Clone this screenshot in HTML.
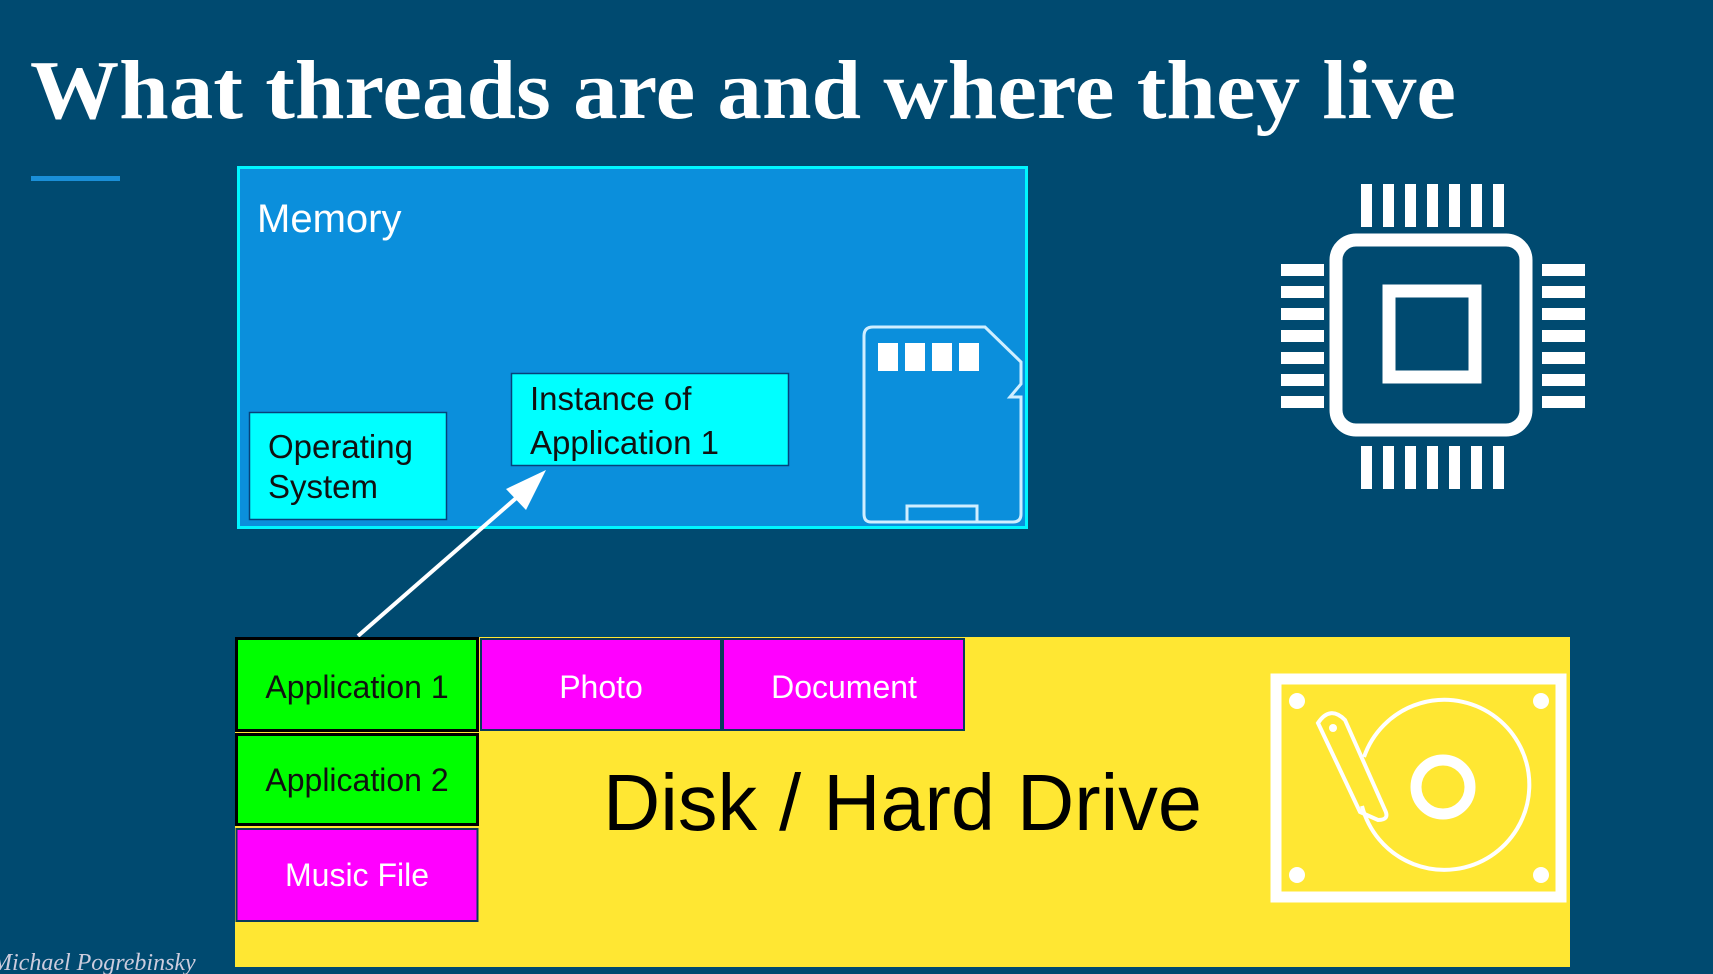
<!DOCTYPE html>
<html><head><meta charset="utf-8"><style>
html,body{margin:0;padding:0;background:#004a70;}
svg{display:block}
</style></head><body>
<svg width="1713" height="974" viewBox="0 0 1713 974" xmlns="http://www.w3.org/2000/svg">
<rect width="1713" height="974" fill="#004a70"/>
<text x="30" y="118" font-family="Liberation Serif, serif" font-weight="bold" font-size="84" fill="#fff" textLength="1426" lengthAdjust="spacingAndGlyphs">What threads are and where they live</text>
<rect x="31" y="176" width="89" height="5" fill="#1a8fd8"/>
<!-- Memory -->
<rect x="238.5" y="167.5" width="788" height="360" fill="#0b8fdc" stroke="#00f5ff" stroke-width="3"/>
<text x="257" y="232" font-family="Liberation Sans, sans-serif" font-size="40" fill="#fff">Memory</text>
<rect x="249.5" y="412.5" width="197" height="107" fill="#00ffff" stroke="#06427a" stroke-width="1.5"/>
<text font-family="Liberation Sans, sans-serif" font-size="33" fill="#111"><tspan x="268" y="458">Operating</tspan><tspan x="268" y="498">System</tspan></text>
<rect x="511.5" y="373.5" width="277" height="92" fill="#00ffff" stroke="#06427a" stroke-width="1.5"/>
<text font-family="Liberation Sans, sans-serif" font-size="33" fill="#111"><tspan x="530" y="410">Instance of</tspan><tspan x="530" y="454">Application 1</tspan></text>
<!-- SD card -->
<g fill="none" stroke="#cfeeff" stroke-width="3">
<path d="M873 327 H985 L1021 362 V384 L1010 397 H1021 V514 Q1021 522 1013 522 H871 Q864 522 864 514 V336 Q864 327 873 327 Z"/>
<path d="M907 522 V506 H977 V522"/>
</g>
<g fill="#fff"><rect x="878" y="343" width="20" height="28"/><rect x="905" y="343" width="20" height="28"/><rect x="932" y="343" width="20" height="28"/><rect x="959" y="343" width="20" height="28"/></g>
<!-- CPU -->
<g fill="#fff">
<rect x="1336" y="240" width="190" height="190" rx="20" fill="none" stroke="#fff" stroke-width="13"/>
<rect x="1389" y="291" width="86" height="86" fill="none" stroke="#fff" stroke-width="13"/>
<rect x="1361" y="184" width="11" height="43"/><rect x="1383" y="184" width="11" height="43"/><rect x="1405" y="184" width="11" height="43"/><rect x="1427" y="184" width="11" height="43"/><rect x="1449" y="184" width="11" height="43"/><rect x="1471" y="184" width="11" height="43"/><rect x="1493" y="184" width="11" height="43"/>
<rect x="1361" y="446" width="11" height="43"/><rect x="1383" y="446" width="11" height="43"/><rect x="1405" y="446" width="11" height="43"/><rect x="1427" y="446" width="11" height="43"/><rect x="1449" y="446" width="11" height="43"/><rect x="1471" y="446" width="11" height="43"/><rect x="1493" y="446" width="11" height="43"/>
<rect x="1281" y="264" width="43" height="12"/><rect x="1281" y="286" width="43" height="12"/><rect x="1281" y="308" width="43" height="12"/><rect x="1281" y="330" width="43" height="12"/><rect x="1281" y="352" width="43" height="12"/><rect x="1281" y="374" width="43" height="12"/><rect x="1281" y="396" width="43" height="12"/>
<rect x="1542" y="264" width="43" height="12"/><rect x="1542" y="286" width="43" height="12"/><rect x="1542" y="308" width="43" height="12"/><rect x="1542" y="330" width="43" height="12"/><rect x="1542" y="352" width="43" height="12"/><rect x="1542" y="374" width="43" height="12"/><rect x="1542" y="396" width="43" height="12"/>
</g>
<!-- Arrow -->
<line x1="358" y1="636" x2="530" y2="486" stroke="#fff" stroke-width="4"/>
<polygon points="546,470 506,489 526,510" fill="#fff"/>
<!-- Disk -->
<rect x="235" y="637" width="1335" height="330" fill="#ffe733"/>
<rect x="236.5" y="638.5" width="241" height="92" fill="#00ff00" stroke="#000" stroke-width="3"/>
<rect x="236.5" y="734.5" width="241" height="90" fill="#00ff00" stroke="#000" stroke-width="3"/>
<rect x="236.5" y="829" width="241" height="92" fill="#ff00ff" stroke="#0a3a5a" stroke-width="2"/>
<rect x="481" y="639" width="240" height="91" fill="#ff00ff" stroke="#0a3a5a" stroke-width="2"/>
<rect x="723" y="639" width="241" height="91" fill="#ff00ff" stroke="#0a3a5a" stroke-width="2"/>
<g font-family="Liberation Sans, sans-serif" font-size="32" text-anchor="middle">
<text x="357" y="698" fill="#111">Application 1</text>
<text x="357" y="791" fill="#111">Application 2</text>
<text x="357" y="886" fill="#fff">Music File</text>
<text x="601" y="698" fill="#fff">Photo</text>
<text x="844" y="698" fill="#fff">Document</text>
</g>
<text x="603" y="830" font-family="Liberation Sans, sans-serif" font-size="80" fill="#000" textLength="599" lengthAdjust="spacingAndGlyphs">Disk / Hard Drive</text>
<!-- HDD -->
<g fill="none" stroke="#fff" stroke-width="11">
<rect x="1276" y="679" width="285" height="218"/>
<circle cx="1443" cy="787" r="27"/>
</g>
<g fill="none" stroke="#fff" stroke-width="4">
<path d="M1364 757 A85 85 0 1 1 1362 806"/>
<path d="M1318 723 Q1330 705 1345 720 L1385 810 Q1390 820 1378 820 L1360 812 Z"/>
</g>
<circle cx="1333" cy="728" r="4" fill="#fff"/>
<g fill="#fff"><circle cx="1297" cy="701" r="8"/><circle cx="1541" cy="701" r="8"/><circle cx="1297" cy="875" r="8"/><circle cx="1541" cy="875" r="8"/></g>
<text x="-8" y="970" font-family="Liberation Serif, serif" font-style="italic" font-size="24" fill="#ccd">Michael Pogrebinsky</text>
</svg>
</body></html>
